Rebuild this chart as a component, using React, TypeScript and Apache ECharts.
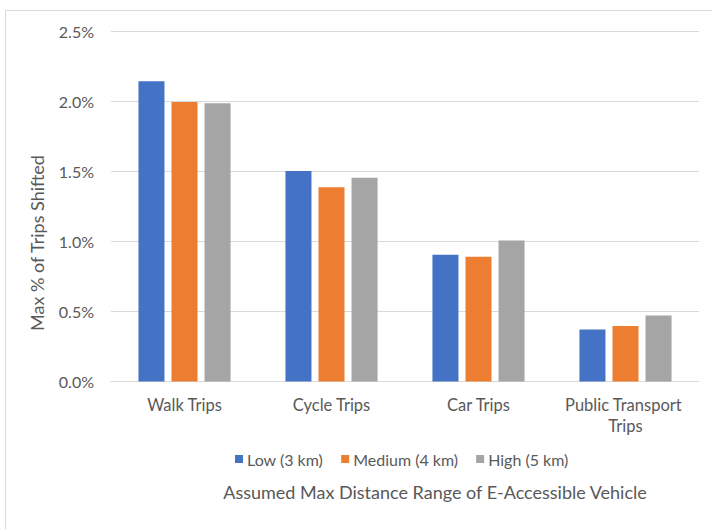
import React, { useEffect, useRef } from "react";
import * as echarts from "echarts";

const categories = ["Walk Trips", "Cycle Trips", "Car Trips", "Public Transport Trips"];
const seriesNames = ["Low (3 km)", "Medium (4 km)", "High (5 km)"];
const lowValues = [2.145, 1.505, 0.905, 0.371];
const mediumValues = [1.998, 1.389, 0.891, 0.397];
const highValues = [1.989, 1.457, 1.007, 0.471];
const yTicks = { min: 0, max: 2.5, interval: 0.5 };
const colors = ["#4472C4", "#ED7D31", "#A5A5A5"];

const FONT = "Lato, 'Open Sans', sans-serif";
const TEXT = "#595959";

export default function App() {
  const ref = useRef<HTMLDivElement>(null);
  useEffect(() => {
    if (!ref.current) return;
    const chart = echarts.init(ref.current, undefined, { renderer: "svg" });
    const values = [lowValues, mediumValues, highValues];
    chart.setOption({
      animation: false,
      backgroundColor: "#ffffff",
      textStyle: { fontFamily: FONT },
      grid: { left: 111, right: 13, top: 31.7, bottom: 147.5, containLabel: false },
      legend: {
        data: seriesNames,
        left: 230,
        top: 446,
        itemWidth: 8,
        itemHeight: 8,
        itemGap: 18,
        icon: "rect",
        textStyle: { color: TEXT, fontSize: 16, fontFamily: FONT, padding: [0, 0, 0, -1] },
      },
      xAxis: {
        type: "category",
        data: categories,
        axisLine: { show: true, lineStyle: { color: "#D9D9D9", width: 1 } },
        axisTick: { show: false },
        axisLabel: {
          color: TEXT,
          fontSize: 16.5,
          fontFamily: FONT,
          margin: 13,
          lineHeight: 21,
          interval: 0,
          width: 135,
          overflow: "break",
        },
      },
      yAxis: {
        type: "value",
        min: yTicks.min,
        max: yTicks.max,
        interval: yTicks.interval,
        axisLine: { show: false },
        axisTick: { show: false },
        splitLine: { lineStyle: { color: "#D9D9D9", width: 1 } },
        axisLabel: {
          color: TEXT,
          fontSize: 16,
          fontFamily: FONT,
          margin: 17,
          formatter: (v: number) => v.toFixed(1) + "%",
        },
      },
      graphic: [
        {
          type: "rect",
          shape: { x: 5.5, y: 10.5, width: 720, height: 540 },
          style: { fill: "none", stroke: "#D9D9D9", lineWidth: 1 },
          silent: true,
        },
        {
          type: "text",
          x: 37,
          y: 243,
          rotation: Math.PI / 2,
          style: {
            text: "Max % of Trips Shifted",
            fill: TEXT,
            fontSize: 18,
            fontFamily: FONT,
            align: "center",
            verticalAlign: "middle",
          },
        },
        {
          type: "text",
          x: 435,
          y: 492,
          style: {
            text: "Assumed Max Distance Range of E-Accessible Vehicle",
            fill: TEXT,
            fontSize: 18,
            fontFamily: FONT,
            align: "center",
            verticalAlign: "middle",
          },
        },
      ],
      series: seriesNames.map((name, i) => ({
        name,
        type: "bar",
        data: values[i],
        itemStyle: { color: colors[i] },
        barWidth: "17.7%",
        barGap: "27%",
        barCategoryGap: "37%",
      })),
    });
    return () => chart.dispose();
  }, []);
  return (
    <div
      ref={ref}
      style={{ position: "fixed", left: 0, top: 0, width: 712, height: 529 }}
    />
  );
}
